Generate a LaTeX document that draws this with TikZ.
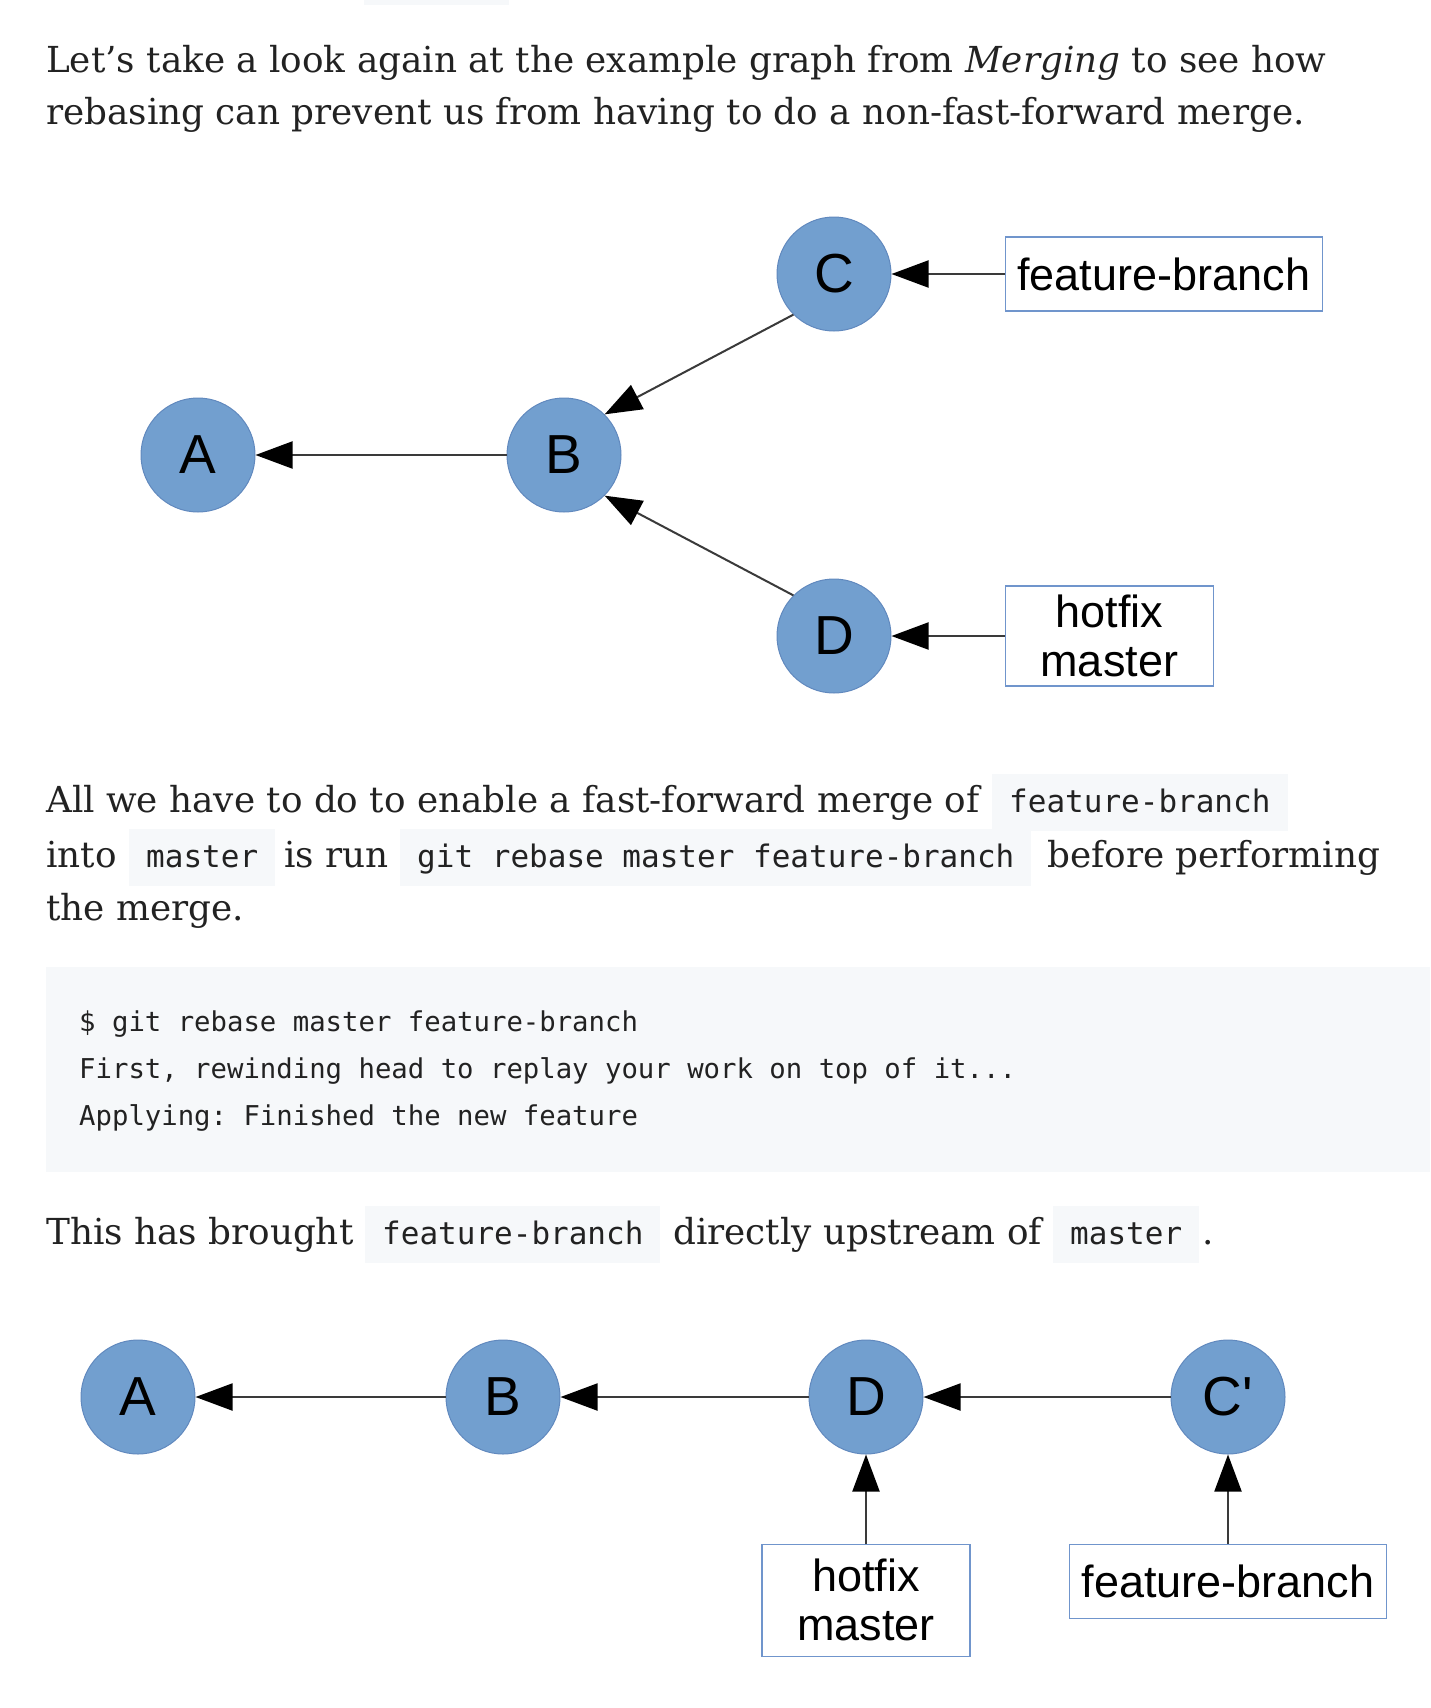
\documentclass[tikz,border=0pt]{standalone}
\usepackage{fontspec}
\setmainfont{DejaVu Serif}
\setmonofont{DejaVu Sans Mono}
\newfontfamily\graphfont{Liberation Sans}
\usepackage{tikz}
\usetikzlibrary{arrows.meta,positioning}
\definecolor{commitfill}{HTML}{729FCF}
\definecolor{commitline}{HTML}{6189BE}
\definecolor{refline}{HTML}{7095CC}
\definecolor{edgegray}{HTML}{3A3A3A}
\definecolor{codebg}{HTML}{F6F8FA}
\definecolor{ink}{HTML}{222222}

\begin{document}
\begin{tikzpicture}[x=1pt,y=-1pt,
  commit/.style={circle,draw=commitline,line width=1pt,fill=commitfill,minimum size=114pt,inner sep=0pt,font=\graphfont\fontsize{55}{60}\selectfont},
  ref/.style={rectangle,draw=refline,line width=1.5pt,fill=white,minimum height=74pt,inner xsep=11pt,align=center,font=\graphfont\fontsize{45}{49}\selectfont},
  arr/.style={-{Triangle[length=37pt,width=27pt,color=black]},line width=2pt,draw=edgegray},
  txt/.style={anchor=base west,inner sep=0pt,text=ink,font=\fontsize{35.8}{42}\selectfont},
  icode/.style={anchor=base west,fill=codebg,inner xsep=17pt,inner ysep=0pt,text height=38pt,text depth=19pt,text=ink,font=\ttfamily\fontsize{31}{36}\selectfont},
  cline/.style={anchor=base west,inner sep=0pt,text=ink,font=\ttfamily\fontsize{27.3}{32}\selectfont}
]
\useasboundingbox (0,0) rectangle (1430,1708);
\fill[codebg] (364,0) rectangle (509,5);

% first paragraph
\node[txt] (p1a) at (46,72) {Let’s take a look again at the example graph from \textit{Merging} to see how};
\node[txt] (p1b) at (46,124) {rebasing can prevent us from having to do a non-fast-forward merge.};

% graph before rebase
\node[commit] (b1) at (564,455) {B};
\node[commit,left=251pt of b1] (a1) {A};
\node[commit] (c1) at (834,274) {C};
\node[commit] (d1) at (834,636) {D};
\node[ref,right=113pt of c1,minimum width=317pt] (fb1) {feature-branch};
\node[ref,right=113pt of d1,minimum width=208pt,minimum height=100pt] (hm1) {hotfix\\master};
\draw[arr] (b1)--(a1);
\draw[arr] (c1.225)--(b1.45);
\draw[arr] (d1.135)--(b1.-45);
\draw[arr] (fb1)--(c1);
\draw[arr] (hm1)--(d1);

% second paragraph
\node[txt] (p2a) at (46,812) {All we have to do to enable a fast-forward merge of};
\node[icode] (k1) at (992,812) {feature-branch};
\node[txt] (p2b) at (46,867) {into};
\node[icode] (k2) at (129,867) {master};
\node[txt] (p2c) at (284,867) {is run};
\node[icode] (k3) at (400,867) {git rebase master feature-branch};
\node[txt] (p2d) at (1047,867) {before performing};
\node[txt] (p2e) at (46,920) {the merge.};

% code block
\fill[codebg] (46,967) rectangle (1430,1172);
\node[cline] (c1l) at (79,1031) {\$ git rebase master feature-branch};
\node[cline] (c2l) at (79,1078) {First, rewinding head to replay your work on top of it...};
\node[cline] (c3l) at (79,1125) {Applying: Finished the new feature};

% third paragraph
\node[txt] (p3a) at (46,1244) {This has brought};
\node[icode] (k4) at (365,1244) {feature-branch};
\node[txt] (p3b) at (673,1244) {directly upstream of};
\node[icode] (k5) at (1053,1244) {master};
\node[txt] (p3c) at (1202,1244) {.};

% graph after rebase
\node[commit] (a2) at (138,1397) {A};
\node[commit,right=250pt of a2] (b2) {B};
\node[commit,right=248pt of b2] (d2) {D};
\node[commit,right=247pt of d2] (c2) {C'};
\node[ref,below=89pt of d2,minimum width=208pt,minimum height=112pt] (hm2) {hotfix\\master};
\node[ref,below=89pt of c2,minimum width=317pt] (fb2) {feature-branch};
\draw[arr] (b2)--(a2);
\draw[arr] (d2)--(b2);
\draw[arr] (c2)--(d2);
\draw[arr] (hm2)--(d2);
\draw[arr] (fb2)--(c2);
\end{tikzpicture}
\end{document}
